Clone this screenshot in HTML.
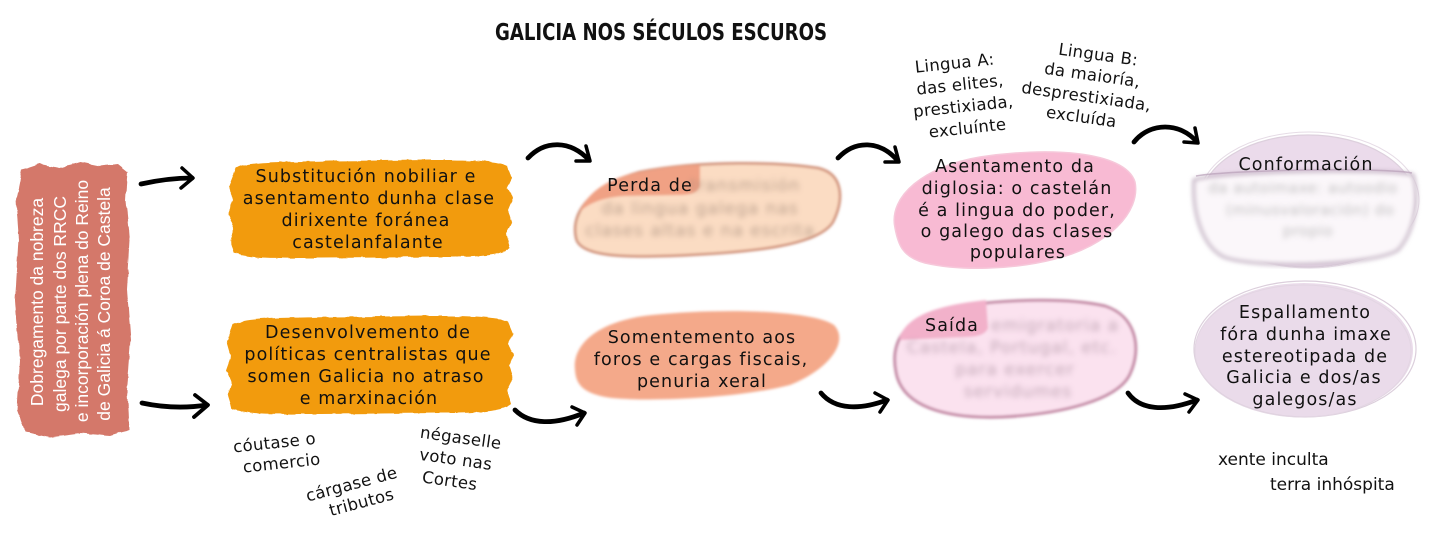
<!DOCTYPE html>
<html><head><meta charset="utf-8">
<style>
html,body{margin:0;padding:0;background:#fff;}
svg{display:block;}
.t{font-family:"DejaVu Sans","Liberation Sans",sans-serif;font-size:17.5px;letter-spacing:1.1px;fill:#111;text-anchor:middle;}
.h{font-family:"DejaVu Sans","Liberation Sans",sans-serif;font-size:16.5px;letter-spacing:0.3px;fill:#111;text-anchor:middle;}
.bl{font-family:"DejaVu Sans","Liberation Sans",sans-serif;font-size:17px;letter-spacing:1px;text-anchor:middle;}
</style></head>
<body>
<svg width="1436" height="547" viewBox="0 0 1436 547" xmlns="http://www.w3.org/2000/svg">
<defs>
  <filter id="blur" x="-10%" y="-60%" width="120%" height="220%"><feGaussianBlur stdDeviation="3"/></filter>
  <filter id="soft" x="-5%" y="-5%" width="110%" height="110%"><feGaussianBlur stdDeviation="1.3"/></filter>
  <filter id="soft2" x="-5%" y="-5%" width="110%" height="110%"><feGaussianBlur stdDeviation="2"/></filter>
  <filter id="rough" x="-5%" y="-5%" width="110%" height="110%">
    <feTurbulence type="fractalNoise" baseFrequency="0.09" numOctaves="2" seed="4"/>
    <feDisplacementMap in="SourceGraphic" scale="3.5" xChannelSelector="R" yChannelSelector="G"/>
  </filter>
</defs>
<rect width="1436" height="547" fill="#fff"/>

<!-- Title -->
<text x="495" y="40" textLength="332" lengthAdjust="spacingAndGlyphs" style="font-family:'DejaVu Sans Condensed','DejaVu Sans',sans-serif;font-weight:bold;font-size:23px;fill:#111;">GALICIA NOS SÉCULOS ESCUROS</text>

<!-- Left red box -->
<path filter="url(#rough)" fill="#d4786a" d="M22,170 L40,164 L60,168 L80,162 L100,166 L118,164 L128,172 L126,200 L130,240 L127,290 L131,340 L127,390 L129,430 L110,436 L80,433 L50,437 L25,432 L17,410 L20,360 L15,300 L19,240 L16,200 Z"/>
<g fill="#fff" font-family="Liberation Sans, Arial, sans-serif" font-size="17.5" text-anchor="middle">
  <text transform="translate(43,302) rotate(-90)">Dobregamento da nobreza</text>
  <text transform="translate(66,304) rotate(-90)">galega por parte dos RRCC</text>
  <text transform="translate(88,301) rotate(-90)">e incorporación plena do Reino</text>
  <text transform="translate(110,304) rotate(-90)">de Galicia á Coroa de Castela</text>
</g>

<!-- Orange boxes -->
<path filter="url(#rough)" fill="#f29b0f" d="M236,168 C250,161 290,162 330,161 L430,160 C470,160 495,160 508,166 L512,178 L507,188 L513,198 L508,210 L512,222 L506,234 L510,248 C500,257 470,257 440,257 L320,258 C280,258 250,259 234,253 L230,240 L234,228 L228,214 L233,200 L229,186 Z"/>
<path filter="url(#rough)" fill="#f29b0f" d="M233,324 C250,317 290,318 330,317 L430,316 C470,316 495,316 508,322 L513,334 L508,344 L514,354 L509,366 L513,378 L507,390 L511,404 C500,413 470,413 440,413 L320,414 C280,414 250,415 232,409 L228,396 L232,384 L226,370 L231,356 L227,342 Z"/>
<g class="t">
  <text x="366" y="182">Substitución nobiliar e</text>
  <text x="369" y="204">asentamento dunha clase</text>
  <text x="366" y="226">dirixente foránea</text>
  <text x="368" y="248">castelanfalante</text>
  <text x="368" y="338">Desenvolvemento de</text>
  <text x="368" y="360">políticas centralistas que</text>
  <text x="366" y="382">somen Galicia no atraso</text>
  <text x="369" y="404">e marxinación</text>
</g>

<!-- Perda blob -->
<g filter="url(#soft)">
  <path fill="#fbdcc3" stroke="#cf8d74" stroke-width="2.5" d="M576,238 C570,210 595,184 640,172 C700,160 780,162 818,168 C844,174 844,200 833,222 C818,246 750,252 690,255 C630,258 580,258 576,238 Z"/>
  <path fill="#f0a184" d="M580,212 C588,190 612,177 640,172 C665,167 685,165 700,165 L700,186 C698,193 690,195 678,195 L625,196 C605,197 588,203 580,212 Z"/>
</g>
<g class="bl" fill="#a08878" opacity="0.7" filter="url(#blur)">
  <text x="745" y="191">transmisión</text>
  <text x="700" y="214">da lingua galega nas</text>
  <text x="700" y="236">clases altas e na escrita</text>
</g>
<text class="t" x="650" y="191">Perda de</text>

<!-- Somentemento blob -->
<path fill="#f4a98a" filter="url(#soft)" d="M575,370 C572,342 602,320 652,315 C720,308 812,310 834,325 C850,342 828,370 790,385 C740,398 652,402 612,398 C582,394 576,384 575,370 Z"/>
<g class="t">
  <text x="702" y="343">Somentemento aos</text>
  <text x="701" y="365">foros e cargas fiscais,</text>
  <text x="702" y="387">penuria xeral</text>
</g>

<!-- Asentamento blob -->
<path fill="#f8bad3" stroke="#f6c8da" stroke-width="1.5" d="M895,228 C888,196 925,166 980,157 C1045,147 1125,150 1135,182 C1141,212 1108,246 1055,259 C1012,270 960,271 925,263 C902,257 898,244 895,228 Z"/>
<g class="t">
  <text x="1015" y="172">Asentamento da</text>
  <text x="1017" y="194">diglosia: o castelán</text>
  <text x="1017" y="216">é a lingua do poder,</text>
  <text x="1017" y="237">o galego das clases</text>
  <text x="1018" y="258">populares</text>
</g>

<!-- Saída blob -->
<g filter="url(#soft)">
  <path fill="#fbe2ef" stroke="#c48aa6" stroke-width="3" d="M896,372 C890,342 905,322 935,312 C975,300 1060,296 1105,306 C1136,316 1142,348 1130,374 C1118,400 1062,414 1002,417 C944,419 902,406 896,372 Z"/>
  <path fill="#f2b1ca" d="M900,336 C908,318 930,306 986,300 L988,328 C986,334 978,337 966,337 L900,340 Z"/>
</g>
<g class="bl" fill="#9a8090" opacity="0.6" filter="url(#blur)">
  <text x="1055" y="331">emigratoria a</text>
  <text x="1012" y="353">Castela, Portugal, etc.</text>
  <text x="1015" y="375">para exercer</text>
  <text x="1018" y="397">servidumes</text>
</g>
<text class="t" x="952" y="331">Saída</text>

<!-- Conformación -->
<ellipse cx="1308" cy="201" rx="107" ry="66" fill="#ebdbeb" stroke="#ddd0dd" stroke-width="1.2"/>
<ellipse cx="1309" cy="200" rx="110" ry="68" fill="none" stroke="#e6dce6" stroke-width="1"/>
<g filter="url(#soft2)">
  <path fill="#fbf7fa" stroke="#c2b0c2" stroke-width="3" d="M1194,180 C1220,171 1385,168 1413,175 C1420,200 1414,232 1398,250 C1372,266 1255,269 1224,257 C1203,247 1192,214 1194,180 Z"/>
</g>
<path d="M1196,176 C1230,170 1380,167 1412,173" fill="none" stroke="#b89fb8" stroke-width="1.5" opacity="0.7"/>
<g class="bl" fill="#999" opacity="0.6" filter="url(#blur)" style="font-size:15px;letter-spacing:0.5px;">
  <text x="1303" y="193">da autoimaxe: autoodio</text>
  <text x="1310" y="215">(minusvaloración) do</text>
  <text x="1308" y="236">propio</text>
</g>
<text class="t" x="1306" y="170">Conformación</text>

<!-- Espallamento -->
<ellipse cx="1304" cy="350" rx="109" ry="67" fill="#eadbea"/>
<ellipse cx="1305" cy="349" rx="111" ry="68" fill="none" stroke="#dccfdc" stroke-width="1.2"/>
<ellipse cx="1303" cy="351" rx="108" ry="66" fill="none" stroke="#e3d6e3" stroke-width="1"/>
<g class="t">
  <text x="1305" y="318">Espallamento</text>
  <text x="1306" y="340">fóra dunha imaxe</text>
  <text x="1305" y="362">estereotipada de</text>
  <text x="1304" y="383">Galicia e dos/as</text>
  <text x="1305" y="405">galegos/as</text>
</g>

<!-- Arrows -->
<g fill="none" stroke="#000" stroke-width="4.8" stroke-linecap="round" stroke-linejoin="round">
  <path d="M141,184 Q168,178 192,178"/><path d="M182,168 L193,178 L181,188" stroke-width="3.5"/>
  <path d="M142,403 Q175,410 207,405"/><path d="M195,395 L208,405 L194,417" stroke-width="3.8"/>
  <path d="M528,158 C545,140 570,140 589,160"/><path d="M586,146 L590,161 L576,161" stroke-width="3.5"/>
  <path d="M515,410 C530,425 555,425 584,413"/><path d="M572,407 L585,413 L577,425" stroke-width="3.5"/>
  <path d="M838,158 C855,140 880,140 898,161"/><path d="M895,147 L899,162 L885,162" stroke-width="3.5"/>
  <path d="M821,393 C835,410 860,410 887,400"/><path d="M875,393 L888,400 L880,412" stroke-width="3.5"/>
  <path d="M1134,142 C1150,122 1180,122 1197,142"/><path d="M1195,128 L1198,143 L1184,142" stroke-width="3.5"/>
  <path d="M1128,393 C1140,410 1165,412 1197,400"/><path d="M1185,394 L1198,400 L1189,412" stroke-width="3.5"/>
</g>

<!-- Lingua A / B annotations -->
<g class="h" transform="rotate(-6 962 95)">
  <text x="958" y="68">Lingua A:</text>
  <text x="961" y="90">das elites,</text>
  <text x="962" y="112">prestixiada,</text>
  <text x="964" y="134">excluínte</text>
</g>
<g class="h" transform="rotate(8 1095 85)">
  <text x="1094" y="60">Lingua B:</text>
  <text x="1091" y="81">da maioría,</text>
  <text x="1088" y="103">desprestixiada,</text>
  <text x="1086" y="124">excluída</text>
</g>

<!-- Bottom annotations -->
<g class="h" transform="rotate(-6 277 457)">
  <text x="276" y="448">cóutase o</text>
  <text x="281" y="469">comercio</text>
</g>
<g class="h" transform="rotate(-15 356 497)">
  <text x="355" y="489">cárgase de</text>
  <text x="360" y="509">tributos</text>
</g>
<g class="h" transform="rotate(8 456 465)">
  <text x="457" y="443">négaselle</text>
  <text x="455" y="465">voto nas</text>
  <text x="452" y="487">Cortes</text>
</g>

<!-- xente / terra -->
<g style="font-family:'DejaVu Sans','Liberation Sans',sans-serif;font-size:17px;fill:#111;">
  <text x="1218" y="465">xente inculta</text>
  <text x="1270" y="490">terra inhóspita</text>
</g>
</svg>
</body></html>
